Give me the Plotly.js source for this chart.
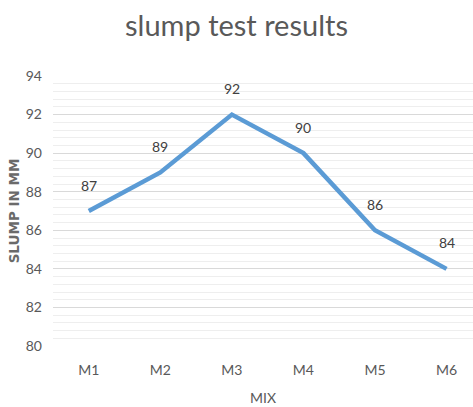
<!DOCTYPE html>
<html><head><meta charset="utf-8">
<script src="https://cdn.plot.ly/plotly-3.0.1.min.js"></script>
<style>body{margin:0;background:#fff}#c{width:473px;height:407px}</style>
</head><body><div id="c"></div>
<script>
var mixes = ["M1","M2","M3","M4","M5","M6"];
var slump = [87, 89, 92, 90, 86, 84];
var yTicks = [80, 82, 84, 86, 88, 90, 92, 94];

var fontFam = "Lato, 'Open Sans', sans-serif";
var labels = mixes.map(function (m, i) {
  return {x: m, y: slump[i], text: String(slump[i]), showarrow: false,
    yshift: 26, font: {family: fontFam, size: 14, color: '#404040'}};
});
Plotly.newPlot('c', [{
  x: mixes, y: slump, type: 'scatter', mode: 'lines',
  line: {color: '#5B9BD5', width: 4.5},
  cliponaxis: false, hoverinfo: 'none'
}], {
  width: 473, height: 407,
  margin: {l: 53, r: 0, t: 76, b: 61},
  paper_bgcolor: '#fff', plot_bgcolor: '#fff',
  showlegend: false,
  annotations: labels,
  title: {text: 'slump test results', x: 0.5, xanchor: 'center', y: 0.962, yanchor: 'top',
    font: {family: fontFam, size: 29, color: '#595959'}},
  xaxis: {type: 'category', range: [-0.5, 5.37], showgrid: false, zeroline: false,
    showline: false, ticks: '', ticklabelstandoff: 14,
    tickfont: {family: fontFam, size: 14, color: '#595959'},
    title: {text: 'MIX', font: {family: fontFam, size: 14, color: '#595959'}, standoff: 16}},
  yaxis: {range: [80, 94], tickvals: yTicks, ticktext: yTicks.map(String), showgrid: true,
    gridcolor: '#d9d9d9', gridwidth: 1, zeroline: false, showline: false, ticks: '',
    ticklabelstandoff: 10, tickfont: {family: fontFam, size: 14, color: '#595959'},
    minor: {dtick: 0.4, tick0: 80, showgrid: true, gridcolor: '#eeeeee', gridwidth: 1},
    title: {text: '<b>SLUMP IN MM</b>', font: {family: 'DejaVu Sans, sans-serif', size: 13.5, color: '#6a6a6a'}, standoff: 3}}
}, {staticPlot: true});
</script></body></html>
